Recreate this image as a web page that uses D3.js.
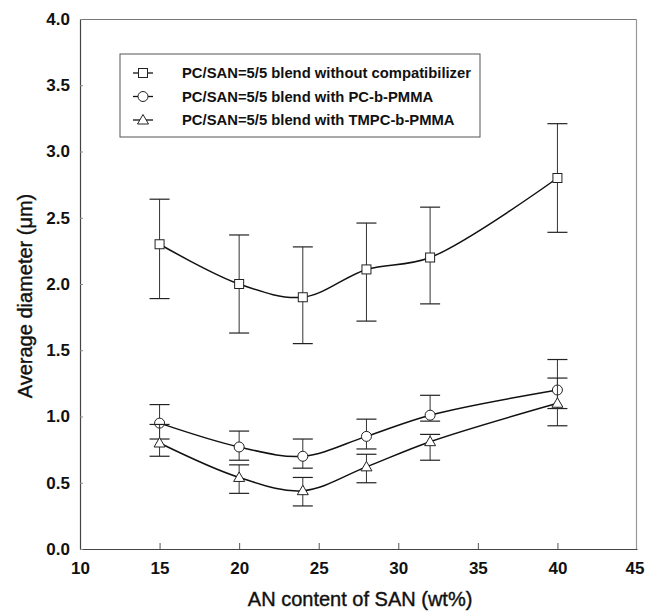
<!DOCTYPE html>
<html>
<head>
<meta charset="utf-8">
<script src="https://cdn.jsdelivr.net/npm/d3@7"></script>
<style>
  body { margin: 0; background: #fff; }
  svg { font-family: "Liberation Sans", Arial, sans-serif; }
</style>
</head>
<body>
<div id="chart"></div>
<script>
// AN content of SAN (wt%)
const anContent = [15, 20, 24, 28, 32, 40];

// average diameter (um) and error bar ends, one set per blend
const noCompat = [2.30, 2.00, 1.90, 2.11, 2.20, 2.80];
const noCompatLow = [1.89, 1.63, 1.55, 1.72, 1.85, 2.39];
const noCompatHigh = [2.64, 2.37, 2.28, 2.46, 2.58, 3.21];

const pcPmma = [0.95, 0.77, 0.70, 0.85, 1.01, 1.20];
const pcPmmaLow = [0.83, 0.67, 0.61, 0.755, 0.965, 1.06];
const pcPmmaHigh = [1.09, 0.89, 0.83, 0.98, 1.16, 1.43];

const tmpcPmma = [0.80, 0.54, 0.44, 0.62, 0.81, 1.10];
const tmpcPmmaLow = [0.70, 0.42, 0.325, 0.50, 0.67, 0.93];
const tmpcPmmaHigh = [0.94, 0.635, 0.54, 0.715, 0.865, 1.29];

const seriesNames = [
  "PC/SAN=5/5 blend without compatibilizer",
  "PC/SAN=5/5 blend with PC-b-PMMA",
  "PC/SAN=5/5 blend with TMPC-b-PMMA"
];
const seriesSymbols = ["square", "circle", "triangle"];

const xTicks = [10, 15, 20, 25, 30, 35, 40, 45];
const yTicks = [0, 0.5, 1.0, 1.5, 2.0, 2.5, 3.0, 3.5, 4.0];

const series = [
  [noCompat, noCompatLow, noCompatHigh],
  [pcPmma, pcPmmaLow, pcPmmaHigh],
  [tmpcPmma, tmpcPmmaLow, tmpcPmmaHigh]
].map(([v, lo, hi], i) => ({
  name: seriesNames[i],
  symbol: seriesSymbols[i],
  points: anContent.map((x, j) => ({ x: x, y: v[j], lo: lo[j], hi: hi[j] }))
}));

const W = 645, H = 612;
const margin = { top: 19, right: 8, bottom: 63, left: 80 };
const width = W - margin.left - margin.right,
      height = H - margin.top - margin.bottom;

const x = d3.scaleLinear().domain([10, 45]).range([0, width]);
const y = d3.scaleLinear().domain([0, 4]).range([height, 0]);

const svg = d3.select("#chart").append("svg")
    .attr("width", W)
    .attr("height", H);
const g = svg.append("g")
    .attr("transform", `translate(${margin.left},${margin.top})`);

// frame: top and right lighter
g.append("line").attr("x1", 0).attr("x2", width).attr("y1", 0.5).attr("y2", 0.5)
  .attr("stroke", "#777").attr("stroke-width", 1);
g.append("line").attr("x1", width - 0.5).attr("x2", width - 0.5).attr("y1", 0).attr("y2", height)
  .attr("stroke", "#999").attr("stroke-width", 1.2);

// x axis
const xAxis = g.append("g")
    .attr("transform", `translate(0,${height})`)
    .call(d3.axisBottom(x).tickValues(xTicks).tickSizeInner(-6).tickSizeOuter(0).tickPadding(13));
xAxis.select(".domain").attr("stroke", "#444").attr("stroke-width", 1.2);
xAxis.selectAll(".tick line").attr("stroke", "#555");
xAxis.selectAll(".tick").filter(d => d === 10 || d === 45).select("line").remove();
xAxis.selectAll("text")
    .attr("font-size", 17).attr("font-weight", "bold").attr("fill", "#111");
// last label sits against the page edge
xAxis.selectAll(".tick").filter(d => d === 45).select("text")
    .attr("text-anchor", "end").attr("x", 7);

// y axis
const yAxis = g.append("g")
    .call(d3.axisLeft(y).tickValues(yTicks).tickFormat(d3.format(".1f"))
      .tickSizeInner(-3).tickSizeOuter(0).tickPadding(10));
yAxis.select(".domain").attr("stroke", "#444").attr("stroke-width", 1.2);
yAxis.selectAll(".tick line").attr("stroke", "#888");
yAxis.selectAll("text")
    .attr("font-size", 17).attr("font-weight", "bold").attr("fill", "#111");

// axis titles
svg.append("text")
    .attr("x", margin.left + x(27.6)).attr("y", 606)
    .attr("text-anchor", "middle")
    .attr("font-size", 20).attr("fill", "#111")
    .attr("stroke", "#111").attr("stroke-width", 0.4)
    .text("AN content of SAN (wt%)");
svg.append("text")
    .attr("transform", "translate(32,296) rotate(-90)")
    .attr("text-anchor", "middle")
    .attr("font-size", 20).attr("fill", "#111")
    .attr("stroke", "#111").attr("stroke-width", 0.4)
    .text("Average diameter (\u03bcm)");

const line = d3.line()
    .x(d => x(d.x)).y(d => y(d.y))
    .curve(d3.curveCatmullRom.alpha(0.5));

const capW = 10;

function drawSymbol(sel, symbol) {
  if (symbol === "square") {
    sel.append("rect").attr("x", -4.5).attr("y", -4.5).attr("width", 9).attr("height", 9);
  } else if (symbol === "circle") {
    sel.append("circle").attr("r", 5);
  } else {
    sel.append("path").attr("d", "M0,-5.5L5.5,4L-5.5,4Z");
  }
  sel.selectAll("rect,circle,path")
    .attr("fill", "#fff").attr("stroke", "#222").attr("stroke-width", 1);
}

series.forEach(s => {
  const sg = g.append("g");
  // error bars
  const eb = sg.selectAll(".err").data(s.points).enter().append("g").attr("class", "err");
  eb.append("line")
    .attr("x1", d => x(d.x)).attr("x2", d => x(d.x))
    .attr("y1", d => y(d.lo)).attr("y2", d => y(d.hi))
    .attr("stroke", "#333").attr("stroke-width", 1);
  eb.append("line")
    .attr("x1", d => x(d.x) - capW).attr("x2", d => x(d.x) + capW)
    .attr("y1", d => y(d.hi)).attr("y2", d => y(d.hi))
    .attr("stroke", "#222").attr("stroke-width", 1.2);
  eb.append("line")
    .attr("x1", d => x(d.x) - capW).attr("x2", d => x(d.x) + capW)
    .attr("y1", d => y(d.lo)).attr("y2", d => y(d.lo))
    .attr("stroke", "#222").attr("stroke-width", 1.2);
  // curve
  sg.append("path")
    .datum(s.points)
    .attr("fill", "none").attr("stroke", "#111").attr("stroke-width", 1.5)
    .attr("d", line);
  // markers
  sg.selectAll(".mk").data(s.points).enter().append("g")
    .attr("class", "mk")
    .attr("transform", d => `translate(${x(d.x)},${y(d.y)})`)
    .each(function() { drawSymbol(d3.select(this), s.symbol); });
});

// legend
const lg = svg.append("g").attr("transform", "translate(120,54)");
lg.append("rect")
    .attr("width", 360).attr("height", 83)
    .attr("fill", "#fff").attr("stroke", "#555").attr("stroke-width", 1);
series.forEach((s, i) => {
  const row = lg.append("g").attr("transform", `translate(0,${19 + i * 23.5})`);
  row.append("line").attr("x1", 13).attr("x2", 33).attr("y1", 0).attr("y2", 0)
    .attr("stroke", "#111").attr("stroke-width", 1.3);
  const m = row.append("g").attr("transform", "translate(23,0)");
  drawSymbol(m, s.symbol);
  row.append("text")
    .attr("x", 62).attr("y", 0).attr("dy", "0.35em")
    .attr("font-size", 14.8).attr("font-weight", "bold").attr("fill", "#111")
    .text(s.name);
});
</script>
</body>
</html>
